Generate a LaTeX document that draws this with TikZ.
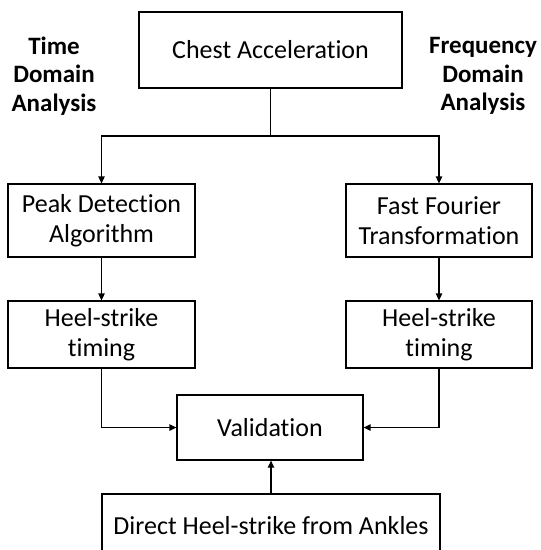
\documentclass[tikz,border=0pt]{standalone}
\usepackage{fontspec}
\setmainfont{Carlito}[Ligatures=NoCommon]
\usetikzlibrary{arrows.meta}
\begin{document}
\begin{tikzpicture}[x=1pt,y=-1pt,
  box/.style={draw,line width=1.3pt,align=center,inner sep=0pt,
    font=\fontsize{26}{30}\selectfont},
  side/.style={align=center,inner sep=0pt,font=\fontsize{25}{28.5}\selectfont\bfseries},
  link/.style={line width=1.3pt},
  arrow/.style={link,-{Triangle[length=7pt,width=6.5pt]}}]
\clip (0,0) rectangle (541,550);
\useasboundingbox (0,0) rectangle (541,550);

% processing boxes
\node[box,minimum width=263pt,minimum height=76pt] (chest) at (270.5,50) {Chest Acceleration};
\node[box,minimum width=187pt,minimum height=73pt] (peak) at (101.5,220.5) {Peak Detection\\Algorithm};
\node[box,minimum width=186pt,minimum height=73pt] (fft) at (439,220.5) {Fast Fourier\\Transformation};
\node[box,minimum width=187pt,minimum height=67pt] (heelL) at (101.5,334.5) {Heel-strike\\timing};
\node[box,minimum width=186pt,minimum height=67pt] (heelR) at (439,334.5) {Heel-strike\\timing};
\node[box,minimum width=186pt,minimum height=65pt] (valid) at (270,427.5) {Validation};
\node[box,minimum width=338pt,minimum height=64pt] (direct) at (271,526) {Direct Heel-strike from Ankles};

% branch labels
\node[side] (timelab) at (54,76) {Time\\Domain\\Analysis};
\node[side] (freqlab) at (483,76) {Frequency\\Domain\\Analysis};

% connectors
\coordinate (split) at (chest.south |- 0,136);
\draw[link] (chest.south) -- (split);
\draw[arrow] (split) -| (peak.north);
\draw[arrow] (split) -| (fft.north);
\draw[arrow] (peak.south) -- (heelL.north);
\draw[arrow] (fft.south) -- (heelR.north);
\draw[arrow] (heelL.south) |- (valid.west);
\draw[arrow] (heelR.south) |- (valid.east);
\draw[arrow] (direct.north) -- (direct.north |- valid.south);
\end{tikzpicture}
\end{document}
